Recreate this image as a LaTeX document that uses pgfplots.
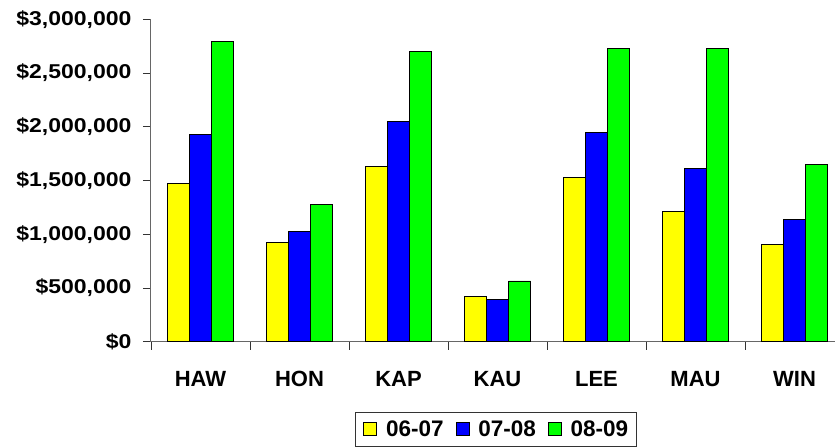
\documentclass[border=0pt]{standalone}
\usepackage{pgfplots}
\pgfplotsset{compat=1.18}
\usepackage{fontspec}
\setmainfont{Liberation Sans}
\newfontfamily\yfont{Liberation Sans}[FakeStretch=1.15]
\definecolor{cyel}{RGB}{255,255,0}
\definecolor{cblu}{RGB}{0,0,255}
\definecolor{cgrn}{RGB}{0,255,0}
\pgfplotsset{legbox/.style={legend image code/.code={\draw[##1] (0pt,-6pt) rectangle (13pt,7pt);}}}
\begin{document}
\begin{tikzpicture}
\begin{axis}[
 scale only axis, width=684pt, height=322.4pt,
 ybar=0pt, bar width=22pt,
 xmin=-0.5, xmax=6.409, ymin=0, ymax=3000000,
 axis lines*=left,
 axis line style={draw=gray!80!black, line width=1pt},
 tick align=outside, major tick length=8pt,
 tick style={draw=black!80, line width=0.8pt},
 xtick={-0.5,0.5,1.5,2.5,3.5,4.5,5.5}, xticklabels={},
 extra x ticks={0,1,2,3,4,5,6},
 extra x tick labels={HAW,HON,KAP,KAU,LEE,MAU,WIN},
 extra x tick style={major tick length=0pt, tick style={draw=none}},
 xticklabel style={font=\bfseries\fontsize{22}{26}\selectfont, yshift=-26pt},
 ytick={0,500000,1000000,1500000,2000000,2500000,3000000},
 yticklabels={{\$0},{\$500,000},{\$1,000,000},{\$1,500,000},{\$2,000,000},{\$2,500,000},{\$3,000,000}},
 scaled y ticks=false,
 yticklabel style={font=\yfont\bfseries\fontsize{20}{24}\selectfont, xshift=-8pt},
 legend style={at={(0.504,-0.219)}, anchor=north, legend columns=3,
   draw=black!80, line width=0.8pt, inner xsep=8pt, inner ysep=6pt,
   nodes={inner xsep=0pt},
   font=\bfseries\fontsize{22.5}{26}\selectfont,
   /tikz/every odd column/.append style={column sep=9pt},
   /tikz/every even column/.append style={column sep=12pt}},
]
\addplot[fill=cyel, draw=black, line width=0.8pt, legbox]
  coordinates {(0,1474000) (1,925000) (2,1634000) (3,425000) (4,1529000) (5,1216000) (6,906000)};
\addplot[fill=cblu, draw=black, line width=0.8pt, legbox]
  coordinates {(0,1932000) (1,1030000) (2,2053000) (3,397000) (4,1951000) (5,1613000) (6,1141000)};
\addplot[fill=cgrn, draw=black, line width=0.8pt, legbox]
  coordinates {(0,2797000) (1,1281000) (2,2701000) (3,565000) (4,2729000) (5,2729000) (6,1653000)};
\legend{06-07,07-08,08-09}
\coordinate (SW) at (rel axis cs:0,0);
\coordinate (NE) at (rel axis cs:1,1);
\end{axis}
\pgfresetboundingbox
\path[use as bounding box] ([shift={(-151pt,-105.3pt)}]SW) rectangle ([shift={(0pt,19.3pt)}]NE);
\end{tikzpicture}
\end{document}
